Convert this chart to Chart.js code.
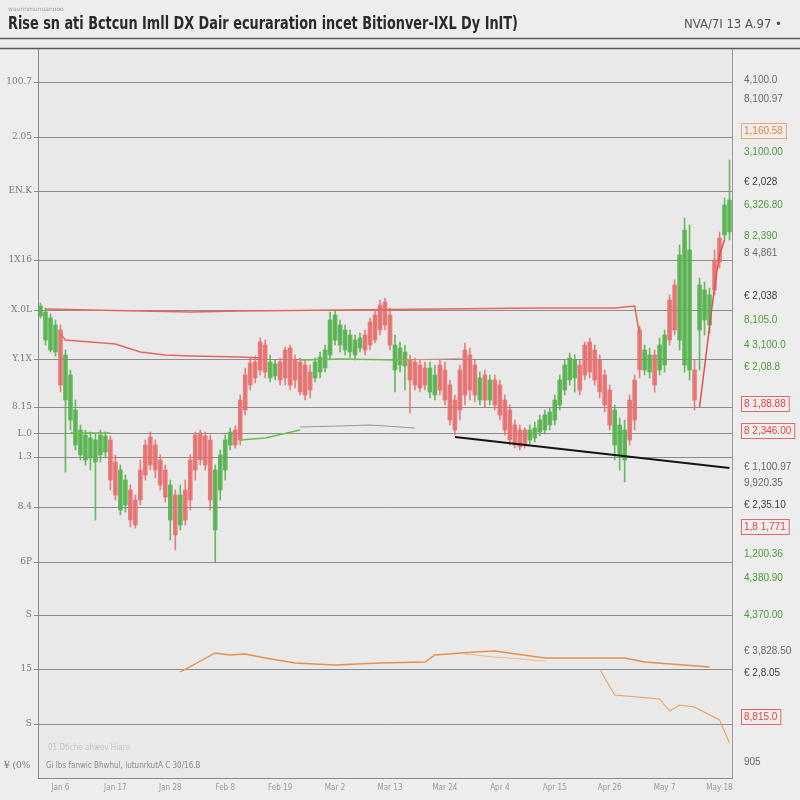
<!DOCTYPE html>
<html><head><meta charset="utf-8">
<script src="https://cdn.jsdelivr.net/npm/chart.js@4.4.0/dist/chart.umd.min.js"></script>
<style>html,body{margin:0;padding:0;background:#ececec;}canvas{display:block;}</style>
</head><body><canvas id="c" width="800" height="800"></canvas>
<script>
// ---------- DATA ----------
const titleText = "Rise sn ati Bctcun Imll DX Dair ecuraration incet Bitionver-IXL Dy InIT)";
const subtitleText = "waunnmunuanooo";
const cornerText = "NVA/7I 13 A.97 \u2022";
const footNote = "Gi lbs fanwic Bhwhul, lutunrkutA C 30/16.B";
const footNoteFaint = "01 Dtiche ahwev Hiaro";

// categories (trading days)
const monthNames = ["Jan","Feb","Mar","Apr","May","Jun","Jul","Aug","Sep","Oct","Nov","Dec"];
const categories = [];
(function(){ const d = new Date(2023,0,2); for (let k=0;k<139;k++){ categories.push(monthNames[d.getMonth()]+" "+d.getDate()); d.setDate(d.getDate()+1);} })();

const opens = [484,460,450,448,470,400,380,355,345,340,
342,338,345,348,360,338,290,295,310,300,
330,355,363,355,340,330,280,305,275,310,
340,365,367,364,360,270,310,330,355,370,
400,425,437,438,458,455,422,424,438,450,
452,440,438,435,428,422,428,432,445,460,
455,450,448,445,452,465,478,485,495,498,
485,430,435,434,440,438,435,432,408,405,
435,430,415,400,430,450,445,435,400,425,
400,420,415,400,390,375,370,370,360,362,
368,370,375,380,395,410,420,422,435,455,
458,450,440,425,410,355,345,340,400,420,
470,430,428,445,430,435,500,515,460,435,
430,430,470,480,475,540,562,565,568];
const closes = [494,488,482,475,415,445,425,390,370,365,
362,360,365,364,320,305,330,320,280,275,
300,325,335,330,315,303,315,265,305,280,
300,330,340,335,300,330,345,360,368,355,
360,390,415,422,430,428,438,436,420,422,
415,420,408,405,410,438,443,450,480,485,
475,470,465,460,462,450,455,460,470,475,
455,455,452,448,420,415,412,415,432,425,
410,400,380,370,390,405,410,405,422,400,
420,395,385,370,360,355,353,355,370,372,
380,385,388,400,420,435,442,440,410,425,
428,420,408,395,375,390,375,370,360,380,
430,450,445,415,455,465,460,470,545,570,
550,400,515,510,505,510,538,595,600];
const highs = [497,492,486,480,475,450,430,400,375,370,
368,367,370,368,364,345,335,325,315,305,
340,360,368,360,345,335,320,310,315,320,
345,368,370,368,365,335,350,365,372,374,
405,432,442,444,462,460,445,440,442,453,
455,445,442,440,435,442,448,455,488,490,
480,475,470,465,467,470,482,490,500,502,
492,465,458,455,445,442,440,438,438,435,
440,438,420,405,435,457,452,440,428,430,
425,425,420,405,395,380,375,372,375,378,
385,390,392,405,425,440,447,445,440,458,
462,455,445,430,415,395,382,380,405,425,
474,455,452,450,462,470,505,520,555,582,
575,440,522,518,512,550,568,602,640];
const lows = [482,455,448,444,408,328,370,350,340,335,
330,280,338,342,310,300,285,288,273,272,
295,320,330,322,310,298,260,250,270,275,
290,320,335,330,290,238,300,320,350,352,
355,385,410,417,425,422,418,420,415,415,
410,412,405,400,402,418,422,428,440,455,
448,445,442,440,448,445,450,457,465,470,
450,408,428,410,387,410,408,410,402,400,
405,395,375,365,380,395,400,398,395,393,
395,390,380,365,355,352,350,352,356,358,
364,366,370,375,390,405,415,408,405,420,
422,415,402,388,370,340,330,318,355,370,
422,425,422,408,425,428,455,465,450,428,
420,390,430,465,467,505,532,560,560];

// overlay lines: [category index, value]
const topRedLine   = [[1,491],[10,490],[30,488],[40,489],[60,490],[80,491],[100,492],[115,492],[119,494],[120,465]];
const midRedLine   = [[4,466],[5,460],[10,458],[15,456],[20,448],[25,445],[30,444],[40,443],[44,442]];
const midGreenLine = [[52,440],[60,441],[72,440]];
const midFaintLine = [[72,440],[80,441],[86,442]];
const lowGreenLineA = [[6,367],[14,367]];
const lowGreenLineB = [[40,360],[45,362],[52,370]];
const grayLine     = [[52,373],[60,374],[66,375],[75,372]];
const trendLine    = [[83,363],[138,332]];
const orangeLine   = [[28,128],[35,147],[38,145],[41,146],[45,142],[51,137],[59,135],[68,137],[77,138],[79,145],[87,148],[91,149],[101,142],[106,142],[117,142],[121,138],[134,133]];
const orangeLine2  = [[85,146],[91,143],[96,141],[101,139]];
const orangeDrop   = [[112,131],[115,105],[124,101],[126,89],[128,95],[131,93],[136,80],[138,57]];
const rightRedLine = [[132,393],[135,513],[136,545],[137,560]];

// axis ticks
const leftTickValues = [718,663,609,540,490,441,393,366,343,293,238,185,131,76];
const leftTickLabels = ["100.7","2.05","EN.K","1X16","X.0L","Y.1X","8.15","L.0","1.3","8.4","6P","S","15","S"];
const rightTickValues = [720,701,669,648,618,595,564,547,504,480,455,433,396,369,333,317,295,273,246,222,185,149,127,83,38];
const rightTickLabels = ["4,100.0","8,100.97","1,160.58","3,100.00","\u20ac 2,028","6,326.80","8 2,390","8 4,861","\u20ac 2,038","8,105.0","4 3,100.0","\u20ac 2,08.8","8 1,88.88","8 2,346.00","\u20ac 1,100.97","9,920.35","\u20ac 2,35.10","1,8 1,771","1,200.36","4,380.90","4,370.00","\u20ac 3,828.50","\u20ac 2,8.05","8,815.0","905"];
const rightTickKinds = ["g","g","o","G","d","G","G","g","d","G","G","G","r","r","g","g","d","r","G","G","G","g","d","r","g"];

// ---------- STYLES ----------
const GREEN = 'rgba(82,176,74,0.85)';
const RED = 'rgba(230,108,108,0.85)';
const kindColor = {g:'#6a6a6a', d:'#3e3e3e', o:'#e08a3a', G:'#4f9a3c', r:'#e04646'};
const boxedKinds = {o:'rgba(232,150,80,0.8)', r:'rgba(226,80,80,0.85)'};

function pts(arr){ return arr.map(([i,v]) => ({x: categories[i], y: v})); }
function lineDs(arr, color, width){
  return {type:'line', data: pts(arr), borderColor: color, borderWidth: width, pointRadius: 0, tension: 0, fill: false, order: 0};
}
const candleColor = (ctx) => closes[ctx.dataIndex] >= opens[ctx.dataIndex] ? GREEN : RED;

const frame = {
  id: 'frame',
  beforeDraw(chart){
    const ctx = chart.ctx, a = chart.chartArea;
    ctx.save();
    ctx.fillStyle = '#ededed'; ctx.fillRect(0,0,chart.width,chart.height);
    ctx.fillStyle = '#e9e9e9'; ctx.fillRect(a.left, a.top, a.right-a.left, a.bottom-a.top);
    ctx.restore();
  },
  afterDraw(chart){
    const ctx = chart.ctx, a = chart.chartArea;
    ctx.save();
    ctx.textBaseline = 'middle';
    ctx.fillStyle = '#9a9a9a'; ctx.font = '6px "DejaVu Sans"';
    ctx.fillText(subtitleText, 8, 9);
    ctx.fillStyle = '#2a2a2a'; ctx.font = 'bold 17px "Liberation Sans Narrow","DejaVu Sans Condensed",sans-serif';
    ctx.fillText(titleText, 8, 25, 510);
    ctx.fillStyle = '#555'; ctx.font = '13px "Liberation Sans Narrow","DejaVu Sans Condensed",sans-serif';
    ctx.textAlign = 'right'; ctx.fillText(cornerText, 782, 25);
    ctx.textAlign = 'left';
    ctx.strokeStyle = '#5a5a5a'; ctx.lineWidth = 1.4;
    ctx.beginPath(); ctx.moveTo(0,38.5); ctx.lineTo(800,38.5); ctx.stroke();
    ctx.beginPath(); ctx.moveTo(0,a.top+0.5); ctx.lineTo(800,a.top+0.5); ctx.stroke();
    ctx.font = '8px "DejaVu Sans Condensed",sans-serif';
    ctx.fillStyle = '#c4c4c4'; ctx.fillText(footNoteFaint, a.left+10, 748);
    ctx.fillStyle = '#8a8a8a'; ctx.fillText(footNote, a.left+8, 766);
    ctx.fillStyle = '#777'; ctx.font = '9px "DejaVu Serif"'; ctx.fillText("\u00a5 (0%", 4, 766);
    // outline boxes around highlighted right-axis labels
    const s = chart.scales.y2;
    ctx.font = '10px "Liberation Sans"';
    ctx.lineWidth = 1;
    rightTickValues.forEach((v, i) => {
      const c = boxedKinds[rightTickKinds[i]];
      if (!c) return;
      const yy = s.getPixelForValue(v);
      const w = ctx.measureText(rightTickLabels[i]).width;
      ctx.strokeStyle = c;
      ctx.strokeRect(a.right + 9.5, Math.round(yy) - 7.5, w + 6, 15);
    });
    ctx.restore();
  }
};

new Chart(document.getElementById('c'), {
  type: 'bar',
  data: {
    labels: categories,
    datasets: [
      lineDs(topRedLine, '#e5675a', 1.5),
      lineDs(midRedLine, '#e06a62', 1.5),
      lineDs(midGreenLine, '#72b850', 1.6),
      lineDs(midFaintLine, 'rgba(225,150,110,0.8)', 1.2),
      lineDs(lowGreenLineA, '#6cbf4a', 1.3),
      lineDs(lowGreenLineB, '#6cbf4a', 1.4),
      lineDs(grayLine, '#9a9a9a', 1.1),
      lineDs(trendLine, '#151515', 2),
      lineDs(orangeLine, '#e8904a', 1.4),
      lineDs(orangeLine2, 'rgba(240,170,110,0.8)', 1),
      lineDs(orangeDrop, '#eba060', 1.1),
      lineDs(rightRedLine, '#e05050', 1.5),
      {type:'bar', data: lows.map((l,i)=>[l, highs[i]]), backgroundColor: candleColor, barThickness: 1, borderWidth: 0, borderSkipped: false, grouped: false, order: 2},
      {type:'bar', data: opens.map((o,i)=>[o, closes[i]]), backgroundColor: candleColor, barThickness: 4, borderWidth: 0, borderSkipped: false, grouped: false, order: 1}
    ]
  },
  options: {
    responsive: false,
    animation: false,
    layout: {padding: {top: 48, left: 0, right: 0, bottom: 0}},
    plugins: {legend: {display: false}, tooltip: {enabled: false}, title: {display: false}},
    scales: {
      x: {
        type: 'category', offset: true,
        grid: {display: false, drawTicks: false},
        border: {display: true, color: '#8a8a8a', width: 1},
        ticks: {autoSkip: false, maxRotation: 0, padding: 5, color: '#9a9a9a', font: {size: 8, family: 'DejaVu Sans Condensed'},
          callback: function(v, i){ return (i % 11 === 4) ? categories[i] : ''; }},
        afterFit(s){ s.height = 22; }
      },
      y: {
        position: 'left', min: 22, max: 752,
        afterBuildTicks(s){ s.ticks = leftTickValues.map(v => ({value: v})); },
        ticks: {autoSkip: false, padding: 2, color: '#7a7a7a', font: {size: 9, family: 'DejaVu Serif'},
          callback: (v, i) => leftTickLabels[i]},
        grid: {color: 'rgba(80,80,80,0.6)', lineWidth: 1, tickLength: 4},
        border: {color: '#8a8a8a'},
        afterFit(s){ s.width = 38; }
      },
      y2: {
        position: 'right', min: 22, max: 752,
        afterBuildTicks(s){ s.ticks = rightTickValues.map(v => ({value: v})); },
        ticks: {autoSkip: false, padding: 12, font: {size: 10, family: 'Liberation Sans'},
          color: (ctx) => kindColor[rightTickKinds[ctx.index]],
          callback: (v, i) => rightTickLabels[i]},
        grid: {display: false, drawTicks: false},
        border: {display: true, color: '#9a9a9a'},
        afterFit(s){ s.width = 68; }
      }
    }
  },
  plugins: [frame]
});
</script></body></html>
